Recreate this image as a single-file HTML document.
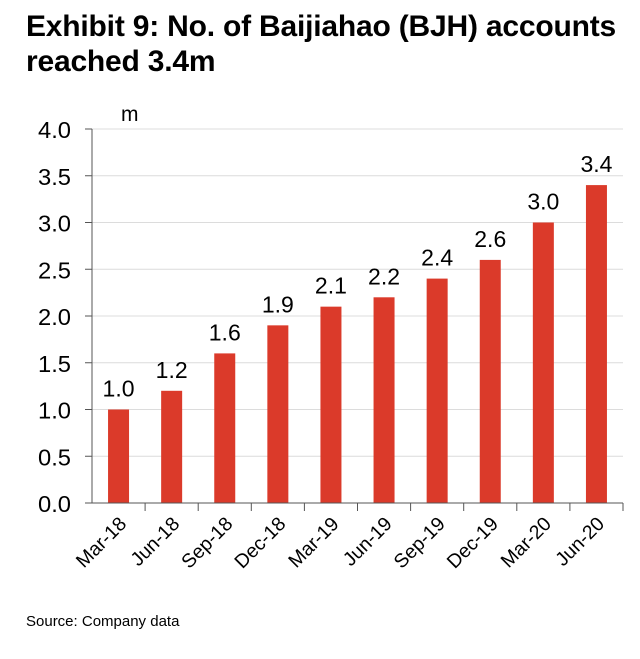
<!DOCTYPE html>
<html><head><meta charset="utf-8"><style>
body{margin:0;background:#fff;font-family:"Liberation Sans",Arial,sans-serif;}
#wrap{position:relative;width:640px;height:659px;}
.title{position:absolute;left:26px;top:9px;font-weight:bold;font-size:30px;line-height:35px;color:#000;letter-spacing:-0.2px;}
.src{position:absolute;left:26px;top:613px;font-size:15px;color:#000;}
</style></head><body>
<div id="wrap">
<div class="title">Exhibit 9: No. of Baijiahao (BJH) accounts<br>reached 3.4m</div>
<svg id="chart" width="640" height="659" style="position:absolute;left:0;top:0"></svg>
<div class="src">Source: Company data</div>
</div>
<script>
const categories=["Mar-18","Jun-18","Sep-18","Dec-18","Mar-19","Jun-19","Sep-19","Dec-19","Mar-20","Jun-20"];
const values=[1.0,1.2,1.6,1.9,2.1,2.2,2.4,2.6,3.0,3.4];
const valueLabels=["1.0","1.2","1.6","1.9","2.1","2.2","2.4","2.6","3.0","3.4"];
const yTicks=[0,0.5,1,1.5,2,2.5,3,3.5,4];
const yTickLabels=["0.0","0.5","1.0","1.5","2.0","2.5","3.0","3.5","4.0"];
const svg=document.getElementById('chart');
const NS='http://www.w3.org/2000/svg';
const x0=92,x1=623,yb=503,yt=129;
const band=(x1-x0)/categories.length;
const y=v=>yb-(v/4)*(yb-yt);
function mk(t,a){const e=document.createElementNS(NS,t);for(const k in a)e.setAttribute(k,a[k]);svg.appendChild(e);return e;}
yTicks.forEach((v,i)=>{
  if(v>0){const g=mk('line',{x1:x0,x2:x1,y1:y(v),y2:y(v),stroke:'#dcdcdc','stroke-width':1});
  
  }
  const tk=mk('line',{x1:x0-7,x2:x0,y1:y(v),y2:y(v),stroke:'#555','stroke-width':1});
  
  
  const t=mk('text',{x:71,y:y(v)+9,'text-anchor':'end','font-size':23,fill:'#000',textLength:33,lengthAdjust:'spacingAndGlyphs'});
  t.textContent=yTickLabels[i];
  
  
});
const u=mk('text',{x:121,y:121,'font-size':21,fill:'#000'});u.textContent='m';


categories.forEach((c,i)=>{
  const cx=x0+band*(i+0.5);
  const b=mk('rect',{x:cx-10.5,y:y(values[i]),width:21,height:yb-y(values[i]),fill:'#db3a2a'});
  
  
  const vl=mk('text',{x:cx,y:y(values[i])-13,'text-anchor':'middle','font-size':23,fill:'#000',textLength:32,lengthAdjust:'spacingAndGlyphs'});
  vl.textContent=valueLabels[i];
  
  
  const tk=mk('line',{x1:x0+band*(i+1),x2:x0+band*(i+1),y1:yb,y2:yb+8,stroke:'#555','stroke-width':1});
  
  
  const xl=mk('text',{x:cx+9,y:yb+22,'text-anchor':'end','font-size':19.5,fill:'#000',transform:`rotate(-45 ${cx+9} ${yb+22})`});
  xl.textContent=c;
  
  
});
const ax=mk('line',{x1:x0,x2:x0,y1:yt,y2:yb,stroke:'#555','stroke-width':1});


const xa=mk('line',{x1:x0-7,x2:x1,y1:yb,y2:yb,stroke:'#555','stroke-width':1});


</script>
</body></html>
